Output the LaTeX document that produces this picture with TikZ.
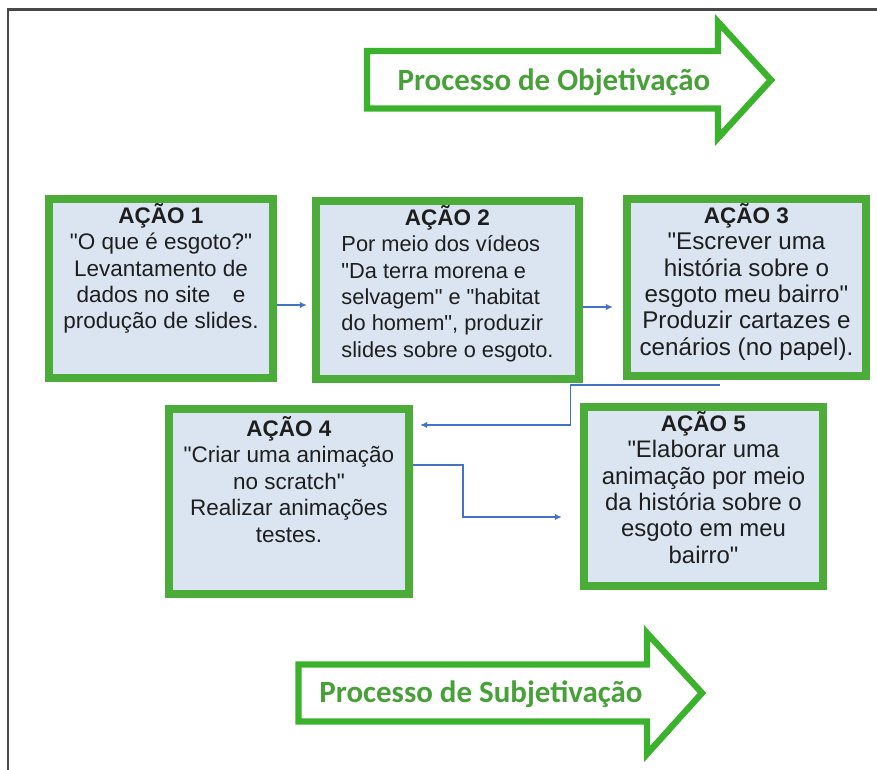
\documentclass[tikz,border=0pt]{standalone}
\usepackage{fontspec}
\setmainfont{Liberation Sans}[Ligatures = TeXOff]
\newfontfamily\arrowfont{Carlito}
\usetikzlibrary{positioning,arrows.meta}
\definecolor{boxgreen}{RGB}{76,172,58}
\definecolor{boxfill}{RGB}{219,229,241}
\definecolor{arrowgreen}{RGB}{58,178,44}
\definecolor{labelgreen}{RGB}{72,160,56}
\definecolor{linkblue}{RGB}{68,114,196}
\definecolor{framegray}{RGB}{72,72,72}
\definecolor{inkgray}{RGB}{30,30,30}
\newcommand{\acaotitle}[1]{{\fontsize{16}{18.8}\selectfont\bfseries AÇÃO~#1}}

\begin{document}
\begin{tikzpicture}[
  x = 0.025cm,
  y = -0.025cm,
  acao/.style = {
    draw = boxgreen,
    fill = boxfill,
    line width = 5.8pt,
    inner sep = 0pt
  },
  txt/.style = {
    align = center,
    inner sep = 0pt,
    text = inkgray,
    font = \fontsize{16}{18.8}\selectfont
  },
  bigarrow/.style = {
    draw = arrowgreen,
    line width = 4.5pt,
    line join = miter
  },
  arrowtext/.style = {
    text = labelgreen,
    inner sep = 0pt,
    font = \arrowfont\bfseries\fontsize{22}{26}\selectfont
  },
  link/.style = {
    draw = linkblue,
    line width = 0.9pt,
    -{Latex[length = 5pt, width = 4.5pt]}
  },
  frame/.style = {
    draw = framegray,
    line width = 1.5pt
  }
]
  \useasboundingbox (0,0) rectangle (877,770);
  \draw[frame] (8,770) -- (8,9.5) -- (877,9.5);

  \draw[bigarrow] (367,51) -- (718,51) -- (718,22) -- (771,80) -- (718,138) -- (718,108.5) -- (367,108.5) -- cycle;
  \node[arrowtext] (obj) at (554,82) {Processo de Objetivação};

  \node[acao, minimum width = 5.6cm, minimum height = 4.475cm] (a1) at (161,288.5) {};
  \node[acao, minimum width = 6.575cm, minimum height = 4.45cm] (a2) at (447.5,290) {};
  \node[acao, minimum width = 5.975cm, minimum height = 4.425cm] (a3) at (746.5,287.5) {};
  \node[acao, minimum width = 6cm, minimum height = 4.625cm] (a4) at (289,501.5) {};
  \node[acao, minimum width = 5.975cm, minimum height = 4.475cm] (a5) at (703.5,496.5) {};

  \node[txt, below = 0.2cm of a1.north] (t1) {\acaotitle{1}\\"O que é esgoto?"\\Levantamento de\\dados no site\quad e\\produção de slides.};
  \node[txt, font = \fontsize{15.5}{18.8}\selectfont, below = 0.2cm of a2.north] (t2) {\acaotitle{2}\\\begin{tabular}[t]{@{}l@{}}Por meio dos vídeos\\"Da terra morena e\\selvagem" e "habitat\\do homem", produzir\\slides sobre o esgoto.\end{tabular}};
  \node[txt, font = \fontsize{17.2}{18.8}\selectfont, below = 0.2cm of a3.north] (t3) {\acaotitle{3}\\"Escrever uma\\história sobre o\\esgoto meu bairro"\\Produzir cartazes e\\cenários (no papel).};
  \node[txt, below = 0.28cm of a4.north] (t4) {\acaotitle{4}\\"Criar uma animação\\no scratch"\\Realizar animações\\testes.};
  \node[txt, font = \fontsize{17}{18.8}\selectfont, below = 0.2cm of a5.north] (t5) {\acaotitle{5}\\"Elaborar uma\\animação por meio\\da história sobre o\\esgoto em meu\\bairro"};

  \coordinate (c3) at ([xshift = -0.65cm, yshift = -0.12cm]a3.south);
  \draw[link, shorten > = 0.125cm] ([yshift = -0.4125cm]a1.east) -- ([yshift = -0.4125cm]a1.east -| a2.west);
  \draw[link, shorten > = 0.25cm] ([yshift = -0.425cm]a2.east) -- ([yshift = -0.425cm]a2.east -| a3.west);
  \draw[link] (c3) -- ++(-150,0) |- ([xshift = 0.175cm, yshift = 1.9125cm]a4.east);
  \draw[link] ([yshift = 0.9125cm]a4.east) -- ++(50,0) |- ([xshift = -0.45cm, yshift = -0.5125cm]a5.west);

  \draw[bigarrow] (298.5,664.5) -- (647,664.5) -- (647,633) -- (702,693) -- (647,754) -- (647,721.5) -- (298.5,721.5) -- cycle;
  \node[arrowtext] (subj) at (481,694) {Processo de Subjetivação};
\end{tikzpicture}
\end{document}
